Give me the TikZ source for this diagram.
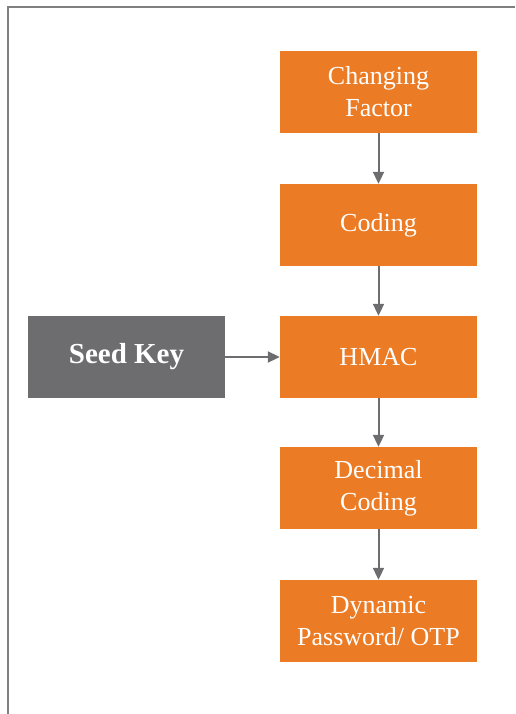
\documentclass[tikz,border=0pt]{standalone}
\usepackage{fontspec}
\setmainfont{Liberation Serif}
\usetikzlibrary{arrows.meta}
\definecolor{boxorange}{HTML}{EB7B24}
\definecolor{keygray}{HTML}{6D6D6F}
\definecolor{framegray}{HTML}{808080}
\begin{document}
\begin{tikzpicture}[x=1pt,y=-1pt,
  stage/.style={fill=boxorange, minimum width=197pt, minimum height=82pt,
    inner sep=0pt, align=center, text=white, font=\fontsize{26}{32}\selectfont},
  seedbox/.style={fill=keygray, minimum width=197pt, minimum height=82pt,
    inner sep=0pt, text=white, font=\fontsize{29}{32}\selectfont\bfseries},
  flow/.style={draw=keygray, line width=2pt,
    -{Triangle[length=12pt,width=11pt]}}]
  \useasboundingbox (0,0) rectangle (515,714);
  % page frame on the left and top
  \draw[framegray, line width=2pt] (7.5,714) -- (7.5,7.5) -- (515,7.5);
  % processing chain
  \node[stage] (cf)  at (378.5,92)  {Changing\\Factor};
  \node[stage] (cod) at (378.5,225) {Coding};
  \node[stage] (hm)  at (378.5,357) {HMAC};
  \node[stage] (dec) at (378.5,488) {Decimal\\Coding};
  \node[stage] (otp) at (378.5,621) {Dynamic\\Password/ OTP};
  \node[seedbox] (seed) at (126.5,357) {Seed Key};
  % connectors
  \draw[flow] (cf)  -- (cod);
  \draw[flow] (cod) -- (hm);
  \draw[flow] (hm)  -- (dec);
  \draw[flow] (dec) -- (otp);
  \draw[flow] (seed) -- (hm);
\end{tikzpicture}
\end{document}
